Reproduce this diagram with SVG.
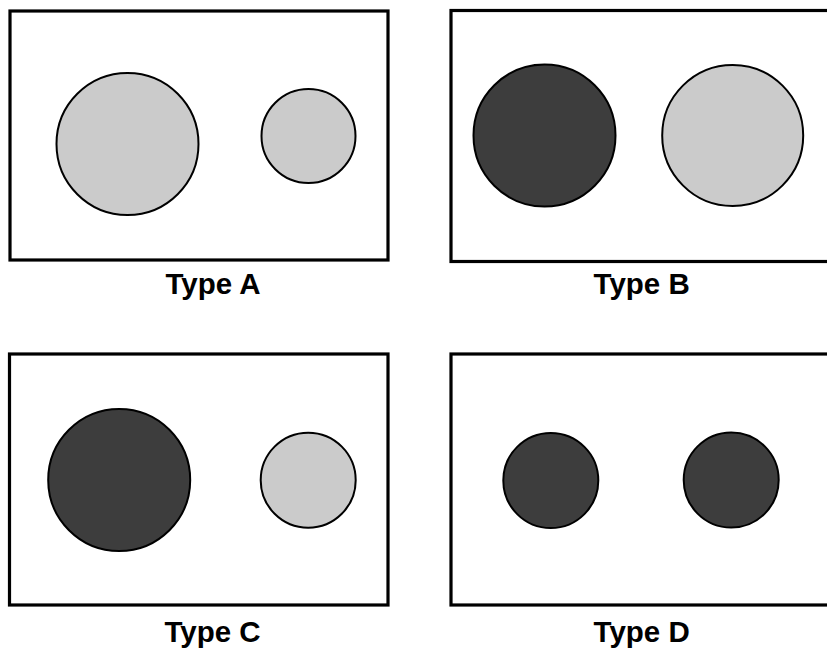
<svg xmlns="http://www.w3.org/2000/svg" width="827" height="649" viewBox="0 0 827 649">
<style>
.panel{fill:#fff;stroke:#000;stroke-width:3.2}
.light{fill:#cbcbcb;stroke:#000;stroke-width:2}
.dark{fill:#3d3d3d;stroke:#000;stroke-width:2}
.lbl{font-family:"Liberation Sans",Arial,sans-serif;font-weight:bold;font-size:29.5px;fill:#000;text-anchor:middle}
</style>
<rect width="827" height="649" fill="#fff"/>
<g id="typeA">
<rect class="panel" x="10" y="11" width="378" height="249"/>
<circle class="light" cx="127.5" cy="144" r="71"/>
<circle class="light" cx="308.5" cy="136" r="47"/>
<text class="lbl" x="213" y="294">Type A</text>
</g>
<g id="typeB">
<rect class="panel" x="451" y="10.5" width="400" height="251"/>
<circle class="dark" cx="544.5" cy="135.5" r="71"/>
<circle class="light" cx="732.7" cy="135.5" r="70.5"/>
<text class="lbl" x="641.7" y="294">Type B</text>
</g>
<g id="typeC">
<rect class="panel" x="9.5" y="354" width="378.5" height="251"/>
<circle class="dark" cx="119.2" cy="480" r="71"/>
<circle class="light" cx="308.2" cy="480.2" r="47.5"/>
<text class="lbl" x="212.5" y="642">Type C</text>
</g>
<g id="typeD">
<rect class="panel" x="451" y="354" width="400" height="251"/>
<circle class="dark" cx="550.8" cy="480.5" r="47.5"/>
<circle class="dark" cx="731.2" cy="480" r="47.5"/>
<text class="lbl" x="641.7" y="642">Type D</text>
</g>
<g id="connectors"/>
</svg>
